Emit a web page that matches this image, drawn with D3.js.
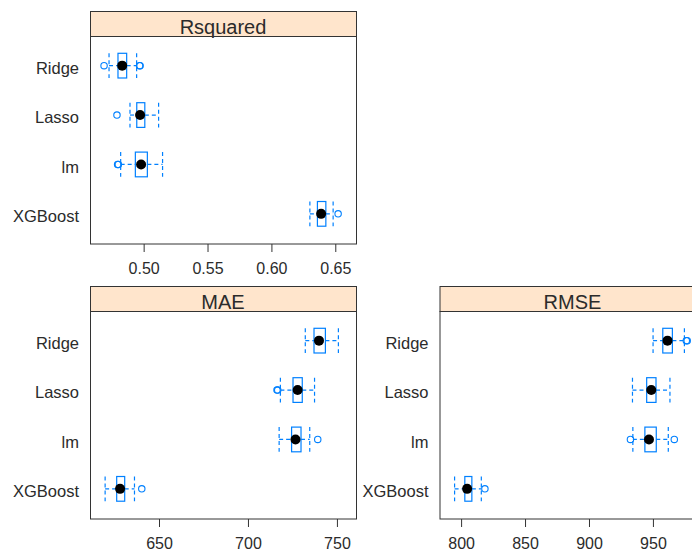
<!DOCTYPE html>
<html>
<head>
<meta charset="utf-8">
<script src="https://cdn.jsdelivr.net/npm/d3@7/dist/d3.min.js"></script>
<style>
  html, body { margin: 0; padding: 0; background: #fff; }
  svg { display: block; }
  text { font-family: "Liberation Sans", Arial, sans-serif; fill: #2b2b2b; }
</style>
</head>
<body>
<svg id="chart" width="692" height="555"></svg>
<script>
// Models, listed bottom-to-top as lattice stacks factor levels
const models = ["XGBoost", "lm", "Lasso", "Ridge"];

// Box statistics per model: [lower whisker, Q1, median, Q3, upper whisker]
const rsquaredStats = [
  [0.6305, 0.6364, 0.6393, 0.6430, 0.6487],
  [0.4824, 0.4939, 0.4984, 0.5033, 0.5152],
  [0.4897, 0.4950, 0.4976, 0.5013, 0.5121],
  [0.4733, 0.4803, 0.4836, 0.4871, 0.4949]
];
const rsquaredOutliers = [[0.6526], [0.4800, 0.4806], [0.4795], [0.4694, 0.4972, 0.4976]];

const maeStats = [
  [620.0, 626.5, 628.4, 631.0, 636.5],
  [717.8, 724.8, 727.0, 730.1, 735.0],
  [718.5, 725.6, 728.2, 730.8, 737.7],
  [732.5, 737.4, 740.2, 743.8, 751.1]
];
const maeOutliers = [[640.6], [739.5], [716.6, 717.0], []];

const rmseStats = [
  [795.3, 803.3, 805.1, 808.8, 816.2],
  [934.7, 944.1, 947.3, 953.0, 962.4],
  [934.4, 945.5, 949.1, 952.8, 963.7],
  [950.5, 958.1, 961.8, 965.6, 975.0]
];
const rmseOutliers = [[819.0], [932.8, 967.1], [], [976.5, 977.2]];

// Axis limits and tick values for each panel
const rsquaredLimits = [0.4584, 0.6666];
const maeLimits = [611.5, 761.0];
const rmseLimits = [783.5, 991.5];
const rsquaredTicks = [0.50, 0.55, 0.60, 0.65];
const maeTicks = [650, 700, 750];
const rmseTicks = [800, 850, 900, 950];

const svg = d3.select("#chart");
svg.append("rect").attr("width", 692).attr("height", 555).attr("fill", "#fff");

const blue = "#0080ff";
const stripH = 25;
const panelW = 266;
const panelH = 207.5;

const panels = [
  { name: "Rsquared", x: 90, y: 11, stats: rsquaredStats, outliers: rsquaredOutliers,
    limits: rsquaredLimits, ticks: rsquaredTicks, fmt: d3.format(".2f") },
  { name: "MAE", x: 90, y: 286, stats: maeStats, outliers: maeOutliers,
    limits: maeLimits, ticks: maeTicks, fmt: d3.format("d") },
  { name: "RMSE", x: 439.5, y: 286, stats: rmseStats, outliers: rmseOutliers,
    limits: rmseLimits, ticks: rmseTicks, fmt: d3.format("d") }
];

panels.forEach(p => {
  const g = svg.append("g").attr("transform", `translate(${p.x},${p.y})`);
  const top = stripH, bottom = stripH + panelH;

  const x = d3.scaleLinear().domain(p.limits).range([0, panelW]);
  const y = d3.scaleLinear().domain([0.4, models.length + 0.6]).range([bottom, top]);
  const half = (y(0) - y(0.5)) / 2; // box thickness is half a level

  // strip
  g.append("rect")
    .attr("x", 0.5).attr("y", 0.5).attr("width", panelW).attr("height", stripH)
    .attr("fill", "#ffe5cc").attr("stroke", "#333").attr("stroke-width", 1);
  g.append("text")
    .attr("x", panelW / 2).attr("y", stripH - 2)
    .attr("text-anchor", "middle").attr("font-size", 20)
    .text(p.name);

  // panel frame
  g.append("rect")
    .attr("x", 0.5).attr("y", top + 0.5).attr("width", panelW).attr("height", panelH)
    .attr("fill", "none").attr("stroke", "#333").attr("stroke-width", 1);

  // x axis
  const xa = g.append("g")
    .attr("transform", `translate(0.5,${bottom + 0.5})`)
    .call(d3.axisBottom(x).tickValues(p.ticks).tickFormat(p.fmt).tickSize(8).tickPadding(11));
  xa.select(".domain").remove();
  xa.selectAll(".tick line").attr("stroke", "#333");
  xa.selectAll(".tick text")
    .attr("font-size", 16).attr("font-family", "Liberation Sans, Arial, sans-serif")
    .attr("fill", "#2b2b2b");

  // y axis labels
  const ya = g.append("g")
    .call(d3.axisLeft(y).tickValues(d3.range(1, models.length + 1))
      .tickFormat(i => models[i - 1]).tickSize(0).tickPadding(11));
  ya.select(".domain").remove();
  ya.selectAll(".tick text")
    .attr("font-size", 16.5).attr("font-family", "Liberation Sans, Arial, sans-serif")
    .attr("fill", "#2b2b2b").attr("dy", "0.48em");

  const rows = g.append("g");
  p.stats.forEach((s, i) => {
    const cy = y(i + 1);
    const [lo, q1, med, q3, hi] = s;
    const r = rows.append("g");
    // whiskers
    [[lo, q1], [q3, hi]].forEach(([a, b]) => {
      r.append("line")
        .attr("x1", x(a)).attr("x2", x(b)).attr("y1", cy).attr("y2", cy)
        .attr("stroke", blue).attr("stroke-width", 1.2).attr("stroke-dasharray", "4,3");
    });
    [lo, hi].forEach(v => {
      r.append("line")
        .attr("x1", x(v)).attr("x2", x(v)).attr("y1", cy - half).attr("y2", cy + half)
        .attr("stroke", blue).attr("stroke-width", 1.2).attr("stroke-dasharray", "4,3");
    });
    // box
    r.append("rect")
      .attr("x", x(q1)).attr("y", cy - half)
      .attr("width", x(q3) - x(q1)).attr("height", 2 * half)
      .attr("fill", "none").attr("stroke", blue).attr("stroke-width", 1.2);
    // outliers
    p.outliers[i].forEach(v => {
      r.append("circle")
        .attr("cx", x(v)).attr("cy", cy).attr("r", 3.2)
        .attr("fill", "none").attr("stroke", blue).attr("stroke-width", 1.1);
    });
    // median dot
    r.append("circle")
      .attr("cx", x(med)).attr("cy", cy).attr("r", 5)
      .attr("fill", "#000");
  });
});
</script>
</body>
</html>
